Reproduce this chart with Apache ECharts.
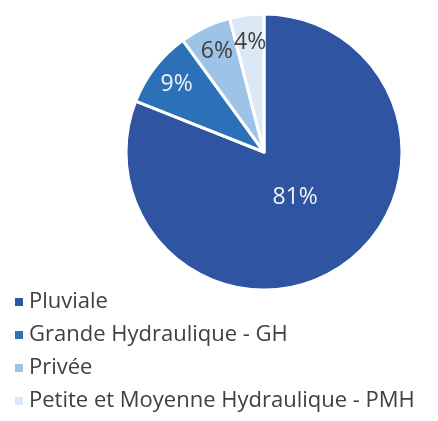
<!DOCTYPE html>
<html>
<head>
<meta charset="utf-8">
<script src="https://cdn.jsdelivr.net/npm/echarts@6/dist/echarts.min.js"></script>
<style>
  html, body { margin: 0; padding: 0; background: #fff; }
  #chart { width: 438px; height: 421px; }
</style>
</head>
<body>
<div id="chart"></div>
<script>
const categories = ['Pluviale', 'Grande Hydraulique - GH', 'Privée', 'Petite et Moyenne Hydraulique - PMH']
const values = [81, 9, 6, 4]
const colors = ['#2F55A2', '#2C71B8', '#9DC3E6', '#DCE8F5']
const labelColors = ['#F2F2F2', '#F2F2F2', '#404040', '#404040']

const chart = echarts.init(document.getElementById('chart'))

const center = [264, 152]
const R = 138
const FONT = 'Open Sans'

const sliceData = categories.map((name, i) => ({
  name,
  value: values[i],
  itemStyle: { color: colors[i] }
}))

// transparent rings only used to place the labels at different distances
const labelData = (showFn) => categories.map((name, i) => ({
  name,
  value: values[i],
  itemStyle: { color: 'transparent' },
  label: { show: showFn(i), color: labelColors[i] }
}))

const labelSeries = (radius, showFn) => ({
  type: 'pie',
  center,
  radius,
  startAngle: 90,
  clockwise: true,
  silent: true,
  label: {
    position: 'inside',
    formatter: '{c}%',
    fontFamily: FONT,
    fontSize: 23
  },
  labelLine: { show: false },
  emphasis: { disabled: true },
  data: labelData(showFn)
})

chart.setOption({
  animation: false,
  legend: {
    orient: 'vertical',
    left: 8,
    top: 286,
    itemGap: 11,
    itemWidth: 10,
    itemHeight: 10,
    icon: 'rect',
    data: categories,
    textStyle: {
      fontFamily: FONT,
      fontSize: 22,
      lineHeight: 22,
      color: '#404040'
    }
  },
  series: [
    {
      name: 'slices',
      type: 'pie',
      center,
      radius: [0, R],
      startAngle: 90,
      clockwise: true,
      itemStyle: { borderColor: '#fff', borderWidth: 3 },
      label: { show: false },
      labelLine: { show: false },
      emphasis: { disabled: true },
      data: sliceData
    },
    labelSeries([0, R * 0.76], i => i === 0),
    labelSeries([R * 0.56, R], i => i > 0)
  ]
})
</script>
</body>
</html>
